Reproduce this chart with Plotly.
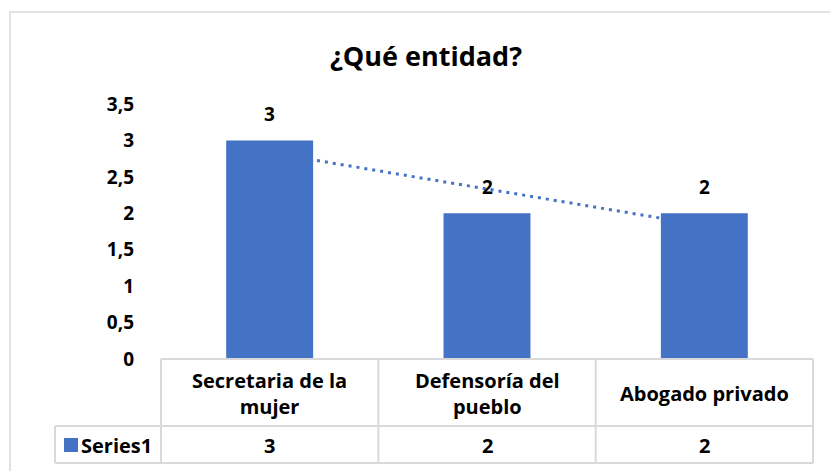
import numpy as np
import plotly.graph_objects as go

# ---- data ----
title_text = "¿Qué entidad?"
categories = ["Secretaria de la mujer", "Defensoría del pueblo", "Abogado privado"]
category_labels = ["Secretaria de la<br>mujer", "Defensoría del<br>pueblo", "Abogado privado"]
series_name = "Series1"
values = [3, 2, 2]
y_tick_vals = [0, 0.5, 1, 1.5, 2, 2.5, 3, 3.5]
y_tick_text = ["0", "0,5", "1", "1,5", "2", "2,5", "3", "3,5"]

# ---- layout constants (pixels) ----
W, H = 830, 471
PLOT_L, PLOT_R = 161, 813
PLOT_T, PLOT_B = 104, 359
ROW1_B, ROW2_B = 426, 463
SERIES_L = 55
FRAME_L, FRAME_T = 10, 12
BLUE = "#4472C4"
GRID = "#D9D9D9"
FONT = "Open Sans"

def X(px):
    return px / W

def Y(py):
    return 1 - py / H

# linear trendline (least squares) from the series values
idx = np.arange(1, len(values) + 1)
slope, intercept = np.polyfit(idx, values, 1)
trend = list(slope * idx + intercept)

fig = go.Figure()
# trendline on base axes (drawn beneath the bars)
fig.add_trace(go.Scatter(
    x=categories, y=trend, mode="lines", xaxis="x", yaxis="y",
    line=dict(color=BLUE, width=3, dash="3px,5px"), hoverinfo="skip",
    showlegend=False,
))
# bars on overlaying axes (drawn on top)
fig.add_trace(go.Bar(
    x=categories, y=values, xaxis="x2", yaxis="y2", name=series_name,
    marker=dict(color=BLUE, line=dict(width=0)), width=0.4, showlegend=False,
))

annotations = []
bold = lambda s: dict(family=FONT, size=s, color="#000000", weight="bold")
# data labels
for c, v in zip(categories, values):
    annotations.append(dict(
        x=c, y=v, xref="x2", yref="y2", text=str(v), showarrow=False,
        yshift=26, font=bold(19),
    ))
# data table text
for c, lab, v in zip(categories, category_labels, values):
    annotations.append(dict(
        x=c, y=Y((PLOT_B + ROW1_B) / 2 + 1), xref="x", yref="paper", text=lab,
        showarrow=False, align="center", yanchor="middle", font=bold(20),
    ))
    annotations.append(dict(
        x=c, y=Y((ROW1_B + ROW2_B) / 2 + 0.5), xref="x", yref="paper", text=str(v),
        showarrow=False, yanchor="middle", font=bold(20),
    ))
annotations.append(dict(
    x=X(PLOT_L - 7), y=Y((ROW1_B + ROW2_B) / 2 + 0.5), xref="paper", yref="paper",
    text=series_name, showarrow=False, xanchor="right", yanchor="middle", font=bold(20),
))

shapes = []
line = dict(color=GRID, width=2)
# outer chart frame
shapes.append(dict(type="rect", xref="paper", yref="paper",
                   x0=X(FRAME_L), x1=X(W + 20), y0=Y(FRAME_T), y1=Y(H + 20),
                   line=dict(color=GRID, width=1.5)))
# table horizontal lines
shapes.append(dict(type="line", xref="paper", yref="paper", x0=X(PLOT_L), x1=X(PLOT_R),
                   y0=Y(PLOT_B), y1=Y(PLOT_B), line=line))
for yy in (ROW1_B, ROW2_B):
    shapes.append(dict(type="line", xref="paper", yref="paper", x0=X(SERIES_L), x1=X(PLOT_R),
                       y0=Y(yy), y1=Y(yy), line=line))
# table vertical lines
n = len(categories)
for i in range(n + 1):
    xx = PLOT_L + i * (PLOT_R - PLOT_L) / n
    shapes.append(dict(type="line", xref="paper", yref="paper", x0=X(xx), x1=X(xx),
                       y0=Y(PLOT_B), y1=Y(ROW2_B), line=line))
shapes.append(dict(type="line", xref="paper", yref="paper", x0=X(SERIES_L), x1=X(SERIES_L),
                   y0=Y(ROW1_B), y1=Y(ROW2_B), line=line))
# legend key in table
mid = (ROW1_B + ROW2_B) / 2 + 0.5
shapes.append(dict(type="rect", xref="paper", yref="paper",
                   x0=X(64), x1=X(78), y0=Y(mid - 7), y1=Y(mid + 7),
                   fillcolor=BLUE, line=dict(width=0)))

axis_common = dict(showgrid=False, zeroline=False, showline=False, automargin=False)
fig.update_layout(
    template="none",
    width=W, height=H, autosize=False,
    margin=dict(l=0, r=0, t=0, b=0, pad=0, autoexpand=False),
    paper_bgcolor="#FFFFFF", plot_bgcolor="rgba(0,0,0,0)",
    title=dict(text=title_text, x=X(426), y=Y(57), xanchor="center", yanchor="middle",
               xref="paper", yref="paper", font=bold(27), automargin=False),
    xaxis=dict(domain=[X(PLOT_L), X(PLOT_R)], type="category", categoryarray=categories,
               range=[-0.5, n - 0.5], showticklabels=False, ticks="", **axis_common),
    yaxis=dict(domain=[Y(PLOT_B), Y(PLOT_T)], range=[0, 3.5], tickvals=y_tick_vals,
               ticktext=y_tick_text, ticks="", ticklabelstandoff=26,
               tickfont=bold(19), **axis_common),
    xaxis2=dict(overlaying="x", type="category", categoryarray=categories,
                range=[-0.5, n - 0.5], showticklabels=False, ticks="", **axis_common),
    yaxis2=dict(overlaying="y", range=[0, 3.5], showticklabels=False, ticks="",
                **axis_common),
    annotations=annotations,
    shapes=shapes,
    showlegend=False,
)

fig.write_html(
    "out.html",
    config={"displayModeBar": False},
    post_script="document.body.style.margin='0';document.body.style.overflow='hidden';",
)
